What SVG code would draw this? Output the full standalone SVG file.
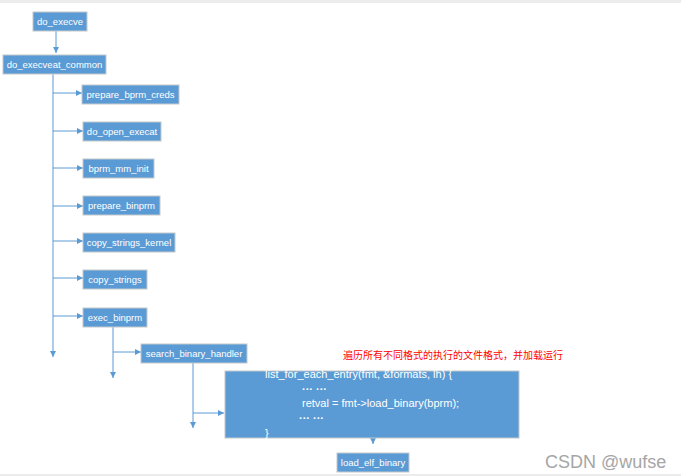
<svg xmlns="http://www.w3.org/2000/svg" width="681" height="476" viewBox="0 0 681 476">
<style>
.box{fill:#5b9bd5;stroke:#c4c8cc;stroke-width:1}
.lbl{font-family:"Liberation Sans",Arial,sans-serif;font-size:9.5px;fill:#ffffff;text-anchor:middle}
.code{font-family:"Liberation Sans",Arial,sans-serif;font-size:11px;fill:#ffffff}
.dots{font-family:"Liberation Sans",Arial,sans-serif;font-size:11px;fill:#ffffff;font-weight:bold}
.con{fill:none;stroke:#5b9bd5;stroke-width:1;marker-end:url(#ah)}
.note{font-family:"Noto Sans CJK SC",sans-serif;font-size:10px;fill:#ff0000}
.wm{font-family:"Liberation Sans",Arial,sans-serif;font-size:18px;fill:#a6a6a6}
</style>
<defs>
<marker id="ah" markerUnits="userSpaceOnUse" markerWidth="7" markerHeight="7" refX="6" refY="3" orient="auto">
<path d="M0,0 L6,3 L0,6 z" fill="#5b9bd5"/>
</marker>
</defs>
<rect x="0" y="0" width="681" height="476" fill="#ffffff"/>
<rect x="0" y="0" width="681" height="3" fill="#ececec"/>
<rect x="0" y="474" width="681" height="2" fill="#ececec"/>
<g id="connectors">
<path class="con" d="M56,31 V53"/>
<path class="con" d="M53,74 V357"/>
<path class="con" d="M53,93 H82"/>
<path class="con" d="M53,131 H83"/>
<path class="con" d="M53,168 H83"/>
<path class="con" d="M53,206 H83"/>
<path class="con" d="M53,241 H83"/>
<path class="con" d="M53,278 H83"/>
<path class="con" d="M53,316 H83"/>
<path class="con" d="M113,327 V378"/>
<path class="con" d="M113,352 H141"/>
<path class="con" d="M193,363 V428"/>
<path class="con" d="M193,413 H224"/>
<path class="con" d="M373,430 V444"/>
</g>
<g id="n_do_execve"><rect class="box" x="33" y="12" width="54" height="19"/><text class="lbl" x="60" y="25">do_execve</text></g>
<g id="n_do_execveat_common"><rect class="box" x="3" y="55" width="103" height="19"/><text class="lbl" x="54.5" y="68">do_execveat_common</text></g>
<g id="n_prepare_bprm_creds"><rect class="box" x="82" y="85" width="97" height="19"/><text class="lbl" x="130.5" y="98">prepare_bprm_creds</text></g>
<g id="n_do_open_execat"><rect class="box" x="83" y="122" width="78" height="19"/><text class="lbl" x="122" y="135">do_open_execat</text></g>
<g id="n_bprm_mm_init"><rect class="box" x="83" y="159" width="71" height="19"/><text class="lbl" x="118.5" y="172">bprm_mm_init</text></g>
<g id="n_prepare_binprm"><rect class="box" x="83" y="196" width="77" height="19"/><text class="lbl" x="121.5" y="209">prepare_binprm</text></g>
<g id="n_copy_strings_kernel"><rect class="box" x="83" y="233" width="92" height="19"/><text class="lbl" x="129" y="246">copy_strings_kernel</text></g>
<g id="n_copy_strings"><rect class="box" x="83" y="270" width="64" height="19"/><text class="lbl" x="115" y="283">copy_strings</text></g>
<g id="n_exec_binprm"><rect class="box" x="83" y="308" width="64" height="19"/><text class="lbl" x="115" y="321">exec_binprm</text></g>
<g id="n_search_binary_handler"><rect class="box" x="141" y="344" width="106" height="19"/><text class="lbl" x="194" y="357">search_binary_handler</text></g>
<g id="n_loop">
<rect class="box" x="225" y="371" width="294" height="67"/>
<text class="code" x="265" y="378">list_for_each_entry(fmt, &amp;formats, lh) {</text>
<text class="dots" x="302" y="393">··· ···</text>
<text class="code" x="302" y="407">retval = fmt-&gt;load_binary(bprm);</text>
<text class="dots" x="299" y="422">··· ···</text>
<text class="code" x="265" y="437">}</text>
</g>
<g id="n_load_elf_binary"><rect class="box" x="337" y="453" width="72" height="19"/><text class="lbl" x="373" y="466">load_elf_binary</text></g>
<text class="note" x="343" y="359">遍历所有不同格式的执行的文件格式，并加载运行</text>
<text class="wm" x="545" y="468">CSDN @wufse</text>
</svg>
